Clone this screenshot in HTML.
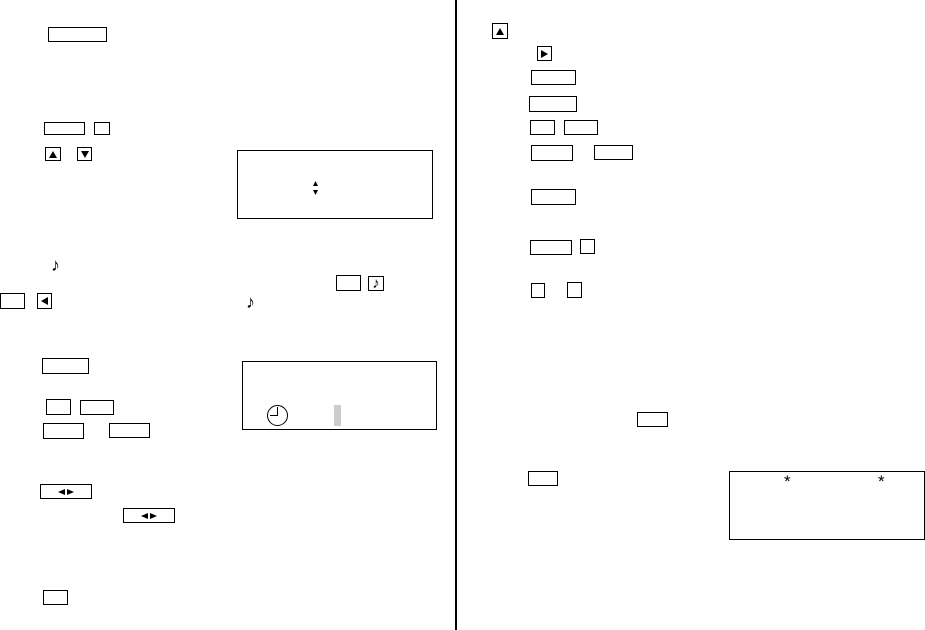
<!DOCTYPE html>
<html><head><meta charset="utf-8"><style>
body{margin:0;width:925px;height:630px;background:#fff;position:relative;overflow:hidden;font-family:"Liberation Sans",sans-serif}
.b{position:absolute;border:1.5px solid #000;box-sizing:border-box;display:flex;align-items:center;justify-content:center;font-size:10px;line-height:1}
.t{position:absolute;font-size:14px;line-height:1}
svg{display:block}
</style></head><body>
<div style="position:absolute;left:455px;top:0;width:1.5px;height:630px;background:#000"></div>

<div class="b" style="left:48px;top:27px;width:59px;height:15px"></div>
<div class="b" style="left:44px;top:122px;width:41px;height:13px"></div>
<div class="b" style="left:94px;top:122px;width:16px;height:13px"></div>
<div class="b" style="left:45px;top:147px;width:16px;height:14px"><svg width="8" height="7"><polygon points="4,0 8,7 0,7"/></svg></div>
<div class="b" style="left:77px;top:147px;width:15px;height:14px"><svg width="8" height="7"><polygon points="0,0 8,0 4,7"/></svg></div>
<div class="b" style="left:237px;top:150px;width:196px;height:69px"></div>
<svg style="position:absolute;left:313px;top:181px" width="5" height="14"><polygon points="2.5,0 5,5 0,5"/><polygon points="0,9 5,9 2.5,14"/></svg>
<div class="t" style="left:51px;top:256px;font-size:18px;font-weight:bold">♪</div>
<div class="b" style="left:0;top:293px;width:25px;height:16px"></div>
<div class="b" style="left:37px;top:293px;width:15px;height:16px"><svg width="7" height="8"><polygon points="7,0 7,8 0,4"/></svg></div>
<div class="b" style="left:336px;top:275px;width:25px;height:16px"></div>
<div class="b" style="left:368px;top:276px;width:16px;height:15px;font-size:15px;font-weight:bold">♪</div>
<div class="t" style="left:246px;top:293px;font-size:18px;font-weight:bold">♪</div>

<div class="b" style="left:42px;top:358px;width:47px;height:16px"></div>
<div class="b" style="left:46px;top:399px;width:25px;height:16px"></div>
<div class="b" style="left:80px;top:400px;width:34px;height:15px"></div>
<div class="b" style="left:43px;top:423px;width:41px;height:16px"></div>
<div class="b" style="left:109px;top:423px;width:41px;height:15px"></div>
<div class="b" style="left:40px;top:484px;width:52px;height:15px"><svg width="16" height="6"><polygon points="7,0 7,6 0,3"/><polygon points="9,0 16,3 9,6"/></svg></div>
<div class="b" style="left:123px;top:508px;width:52px;height:15px"><svg width="16" height="6"><polygon points="7,0 7,6 0,3"/><polygon points="9,0 16,3 9,6"/></svg></div>
<div class="b" style="left:43px;top:590px;width:25px;height:15px"></div>
<div class="b" style="left:242px;top:361px;width:195px;height:69px"></div>
<svg style="position:absolute;left:266px;top:404px" width="24" height="24"><circle cx="11.5" cy="11.5" r="10" fill="none" stroke="#000" stroke-width="1"/><path d="M11.5 3V11.5H4" fill="none" stroke="#000" stroke-width="1"/></svg>
<div style="position:absolute;left:334px;top:405px;width:7px;height:21px;background:#ccc"></div>

<div class="b" style="left:492px;top:23px;width:16px;height:16px"><svg width="8" height="7"><polygon points="4,0 8,7 0,7"/></svg></div>
<div class="b" style="left:537px;top:46px;width:15px;height:15px"><svg width="7" height="8"><polygon points="0,0 7,4 0,8"/></svg></div>
<div class="b" style="left:531px;top:70px;width:45px;height:15px"></div>
<div class="b" style="left:529px;top:96px;width:48px;height:16px"></div>
<div class="b" style="left:530px;top:120px;width:25px;height:15px"></div>
<div class="b" style="left:564px;top:120px;width:34px;height:15px"></div>
<div class="b" style="left:531px;top:145px;width:42px;height:16px"></div>
<div class="b" style="left:594px;top:145px;width:39px;height:15px"></div>
<div class="b" style="left:531px;top:189px;width:45px;height:16px"></div>
<div class="b" style="left:530px;top:240px;width:42px;height:15px"></div>
<div class="b" style="left:580px;top:239px;width:15px;height:15px"></div>
<div class="b" style="left:531px;top:283px;width:14px;height:15px"></div>
<div class="b" style="left:567px;top:282px;width:15px;height:16px"></div>

<div class="b" style="left:637px;top:412px;width:31px;height:15px"></div>
<div class="b" style="left:528px;top:471px;width:30px;height:15px"></div>
<div class="b" style="left:729px;top:471px;width:196px;height:69px"></div>
<div class="t" style="left:784px;top:473px;font-size:17px">*</div>
<div class="t" style="left:878px;top:473px;font-size:17px">*</div>
</body></html>
